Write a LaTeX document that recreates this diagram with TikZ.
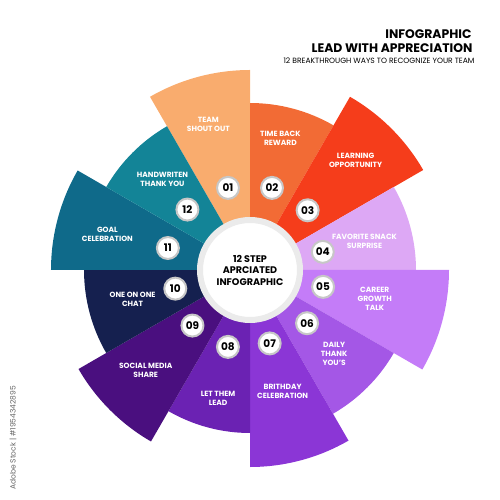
\documentclass[tikz,border=0pt]{standalone}
\usepackage{fontspec}
\setmainfont{Poppins}
\usepackage{tikz}
\usetikzlibrary{positioning}

\definecolor{stepA}{HTML}{F9AC6E}
\definecolor{stepB}{HTML}{F26B35}
\definecolor{stepC}{HTML}{F53D1B}
\definecolor{stepD}{HTML}{DDA8F5}
\definecolor{stepE}{HTML}{C47CF8}
\definecolor{stepF}{HTML}{A457E6}
\definecolor{stepG}{HTML}{8B36D6}
\definecolor{stepH}{HTML}{6B22B3}
\definecolor{stepI}{HTML}{4A0F7F}
\definecolor{stepJ}{HTML}{15204F}
\definecolor{stepK}{HTML}{0F6A8A}
\definecolor{stepL}{HTML}{138497}

\begin{document}
\begin{tikzpicture}[x=1pt,y=1pt,
        steptext/.style={text=white,font=\bfseries\fontsize{7.5}{9}\selectfont,align=center},
        badge/.style={circle,fill=white,draw=black!22,line width=2pt,minimum size=22pt,inner sep=0pt,
                      text=black,font=\bfseries\fontsize{10.5}{10.5}\selectfont},
        hub/.style={circle,fill=white,draw=black!8,line width=6pt,minimum size=100pt,inner sep=0pt,
                    align=center,font=\bfseries\fontsize{9.6}{11.5}\selectfont}]

        \useasboundingbox (-250,-230) rectangle (250,270);

        % sectors
        \fill[stepA] (0,0) -- (90:200) arc[start angle=90,end angle=120,radius=200] -- cycle;
        \fill[stepB] (0,0) -- (60:167) arc[start angle=60,end angle=90,radius=167] -- cycle;
        \fill[stepC] (0,0) -- (30:200) arc[start angle=30,end angle=60,radius=200] -- cycle;
        \fill[stepD] (0,0) -- (0:166) arc[start angle=0,end angle=30,radius=166] -- cycle;
        \fill[stepE] (0,0) -- (-30:199) arc[start angle=-30,end angle=0,radius=199] -- cycle;
        \fill[stepF] (0,0) -- (-60:166) arc[start angle=-60,end angle=-30,radius=166] -- cycle;
        \fill[stepG] (0,0) -- (-90:197) arc[start angle=-90,end angle=-60,radius=197] -- cycle;
        \fill[stepH] (0,0) -- (-120:163) arc[start angle=-120,end angle=-90,radius=163] -- cycle;
        \fill[stepI] (0,0) -- (-150:198) arc[start angle=-150,end angle=-120,radius=198] -- cycle;
        \fill[stepJ] (0,0) -- (-180:166) arc[start angle=-180,end angle=-150,radius=166] -- cycle;
        \fill[stepK] (0,0) -- (150:199) arc[start angle=150,end angle=180,radius=199] -- cycle;
        \fill[stepL] (0,0) -- (120:166) arc[start angle=120,end angle=150,radius=166] -- cycle;

        \node[hub] (hub) at (0,0) {12 STEP\\APRCIATED\\INFOGRAPHIC};

        % texts of the steps
        \node[steptext] (t01) at (106:151) {TEAM\\SHOUT OUT};
        \node[steptext] (t02) at (77:135) {TIME BACK\\REWARD};
        \node[steptext] (t03) at (46:152) {LEARNING\\OPPORTUNITY};
        \node[steptext] (t04) at (14:118) {FAVORITE SNACK\\SURPRISE};
        \node[steptext] (t05) at (-13:128) {CAREER\\GROWTH\\TALK};
        \node[steptext] (t06) at (-45:119) {DAILY\\THANK\\YOU'S};
        \node[steptext] (t07) at (-75:126) {BRITHDAY\\CELEBRATION};
        \node[steptext] (t08) at (-104:132) {LET THEM\\LEAD};
        \node[steptext] (t09) at (-136:145) {SOCIAL MEDIA\\SHARE};
        \node[steptext] (t10) at (-166:121) {ONE ON ONE\\CHAT};
        \node[steptext] (t11) at (166:147) {GOAL\\CELEBRATION};
        \node[steptext] (t12) at (134:126) {HANDWRITEN\\THANK YOU};

        % number badges
        \node[badge] (n01) at (105:85) {01};
        \node[badge] (n02) at (75:85) {02};
        \node[badge] (n03) at (46:83) {03};
        \node[badge] (n04) at (14:75) {04};
        \node[badge] (n05) at (-13:75) {05};
        \node[badge] (n06) at (-43:78) {06};
        \node[badge] (n07) at (-75:76) {07};
        \node[badge] (n08) at (-106:80) {08};
        \node[badge] (n09) at (-136:80) {09};
        \node[badge] (n10) at (-166:77) {10};
        \node[badge] (n11) at (165:85) {11};
        \node[badge] (n12) at (136:87) {12};

        % title
        \node[anchor=base east,font=\bfseries\fontsize{12.4}{12.4}\selectfont] (title) at (225,231) {INFOGRAPHIC};
        \node[anchor=base east,font=\bfseries\fontsize{12.4}{12.4}\selectfont] (lead) at (226,217) {LEAD WITH APPRECIATION};
        \node[anchor=base east,font=\fontsize{7.6}{7.6}\selectfont] (sub) at (228,206) {12 BREAKTHROUGH WAYS TO RECOGNIZE YOUR TEAM};

        \node[rotate=90,text=black!60,font=\fontsize{7.5}{7.5}\selectfont] (stock) at (-237,-168) {Adobe Stock | \#1954342895};
\end{tikzpicture}
\end{document}
